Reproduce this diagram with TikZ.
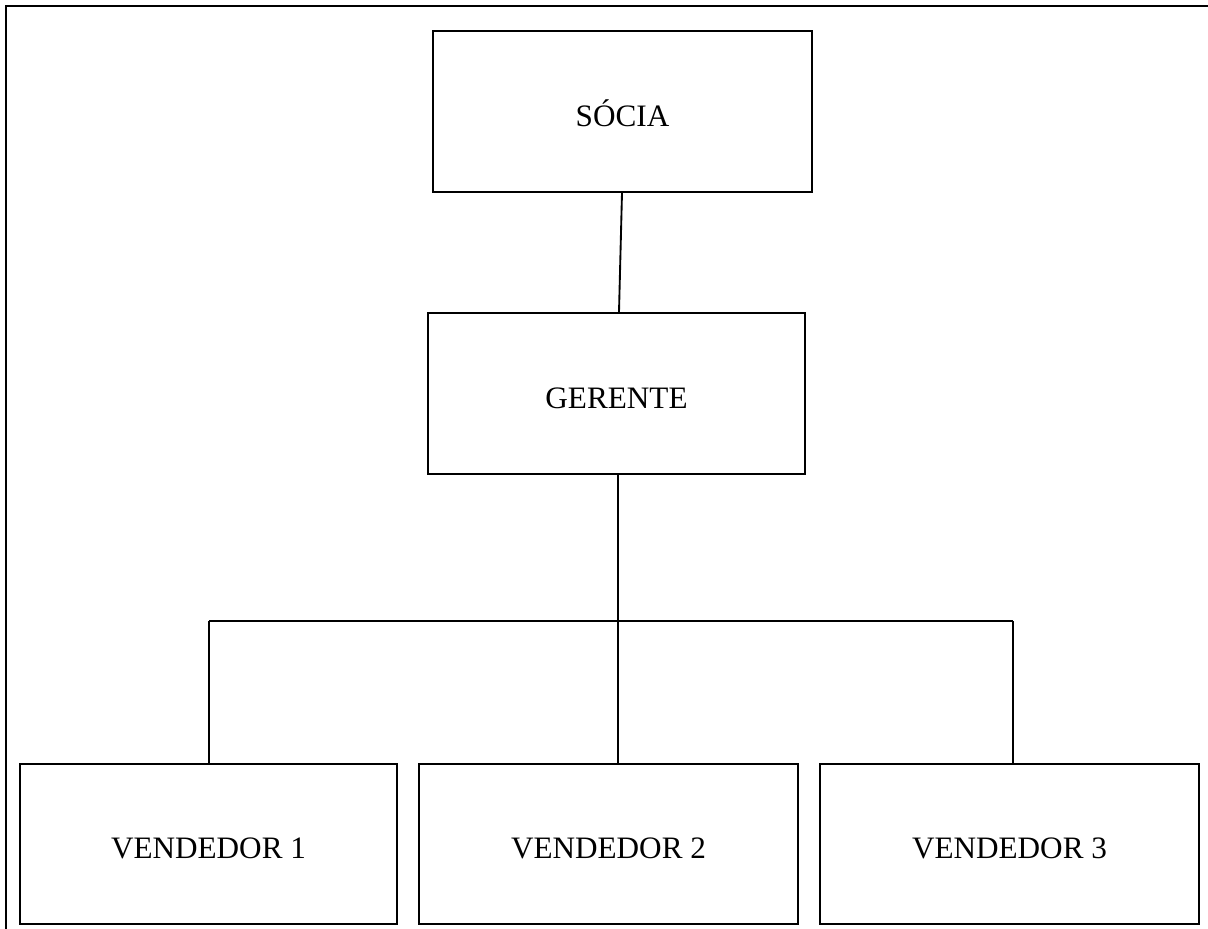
\documentclass[tikz,border=0pt]{standalone}
\usepackage{fontspec}
\setmainfont{Liberation Serif}
\usetikzlibrary{positioning,calc}

\begin{document}
\begin{tikzpicture}[x=0.75pt, y=-0.75pt, line width=1.4pt,
    orgbox/.style={draw, line width=1.5pt, inner sep=0pt,
        text height=22pt, text depth=0pt,
        font=\fontsize{23.4}{26}\selectfont}]
    \useasboundingbox (0,0) rectangle (1208,929);
    % Visual: frame along top and left
    \draw (6,929) -- (6,6) -- (1210,6);

    % Top of the chart
    \node[orgbox, minimum width=379*0.75pt, minimum height=161*0.75pt] (socia) at (622.5,111.5) {SÓCIA};
    \node[orgbox, minimum width=377*0.75pt, minimum height=161*0.75pt] (gerente) at (616.5,393.5) {GERENTE};

    % Sellers
    \node[orgbox, minimum width=377*0.75pt, minimum height=160*0.75pt] (vend1) at (208.5,843.5) {VENDEDOR 1};
    \node[orgbox, minimum width=379*0.75pt, minimum height=160*0.75pt] (vend2) at (608.5,843.5) {VENDEDOR 2};
    \node[orgbox, minimum width=379*0.75pt, minimum height=160*0.75pt] (vend3) at (1009.5,843.5) {VENDEDOR 3};

    % Connectors
    \coordinate (hub) at (618,621);
    \coordinate (barleft) at (209,621);
    \coordinate (barright) at (1013,621);
    \draw ($(socia.south)+(-0.5,0)$) -- ($(gerente.north)+(2.5,0)$);
    \draw (gerente.south -| hub) -- (hub);
    \draw (barleft) -- (barright);
    \draw (barleft) -- (barleft |- vend1.north);
    \draw (hub) -- (hub |- vend2.north);
    \draw (barright) -- (barright |- vend3.north);
\end{tikzpicture}
\end{document}
